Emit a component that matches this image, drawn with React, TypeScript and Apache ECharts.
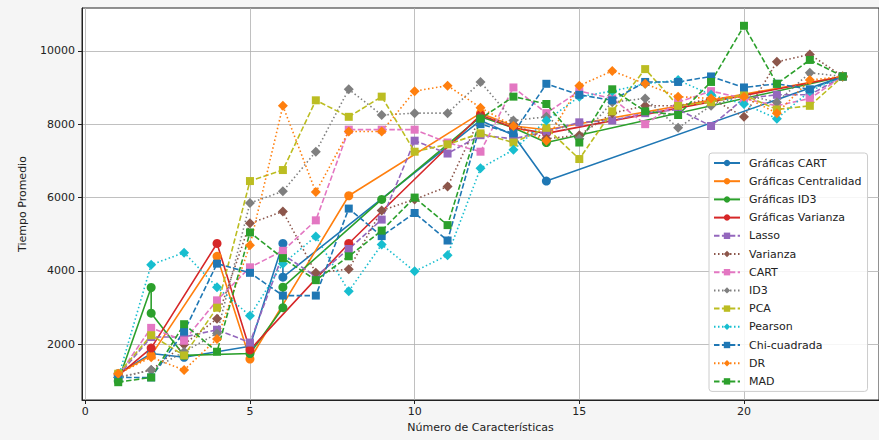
import React, { useEffect, useRef } from 'react';
import * as echarts from 'echarts';

// Number of features (x) for the feature-selection methods
const features = [1, 2, 3, 4, 5, 6, 7, 8, 9, 10, 11, 12, 13, 14, 15, 16, 17, 18, 19, 20, 21, 22, 23];

// "Gráficas" series (sparse x values)
const gCartX = [1, 2, 3, 5, 6, 6, 12, 13, 14, 23];
const gCartY = [1200, 1750, 1650, 1950, 4750, 3830, 8100, 7700, 6450, 9300];
const gCentX = [1, 2, 4, 5, 8, 12, 13, 14, 23];
const gCentY = [1200, 1700, 4400, 1600, 6050, 8300, 7950, 7850, 9300];
const gId3X = [1, 2, 2, 3, 5, 6, 6, 9, 12, 13, 14, 23];
const gId3Y = [1000, 3550, 2850, 1700, 1750, 3000, 3560, 5950, 8200, 7900, 7500, 9300];
const gVarX = [1, 2, 4, 5, 8, 12, 13, 14, 23];
const gVarY = [1150, 1900, 4750, 1850, 4750, 8250, 7900, 7750, 9300];

// Feature-selection methods (one value per feature count)
const lasso = [1150, 2200, 2200, 2400, 2050, 4450, 3850, 4600, 5400, 7550, 7200, 7700, 7600, 7800, 8050, 8100, 8300, 8400, 7950, 8700, 8800, 8800, 9300];
const varianza = [1100, 1300, 2000, 2700, 5300, 5620, 3950, 4050, 5650, 5950, 6300, 8200, 8000, 7600, 7700, 8300, 8500, 8500, 8700, 8200, 9700, 9900, 9300];
const cart = [1150, 2450, 2100, 3200, 4100, 4550, 5380, 7850, 7850, 7850, 7500, 7250, 9000, 8300, 8900, 8700, 8000, 8600, 8900, 8700, 8500, 8700, 9300];
const id3 = [1100, 1300, 1800, 2300, 5850, 6170, 7250, 8950, 8250, 8300, 8300, 9150, 8100, 8200, 7600, 8600, 8700, 7900, 8500, 8800, 8600, 9400, 9300];
const pca = [1200, 2250, 1700, 3000, 6450, 6750, 8650, 8200, 8750, 7250, 7450, 7750, 7500, 7900, 7050, 8350, 9500, 8500, 8600, 8800, 8400, 8500, 9300];
const pearson = [1100, 4170, 4500, 3560, 2780, 4200, 4940, 3450, 4720, 3990, 4430, 6800, 7300, 8100, 8750, 8900, 9100, 9200, 8800, 8550, 8150, 8900, 9300];
const chi = [1100, 1100, 2350, 4200, 3950, 3330, 3330, 5700, 4950, 5580, 4830, 8000, 7750, 9100, 8800, 8650, 9150, 9150, 9300, 9000, 9100, 8950, 9300];
const dr = [1200, 1650, 1300, 2150, 4700, 8500, 6150, 7800, 7800, 8900, 9050, 8450, 7950, 7550, 9050, 9450, 9100, 8750, 8700, 8750, 8300, 9200, 9300];
const mad = [970, 1100, 2550, 1800, 5050, 4350, 3750, 4400, 5100, 6000, 5250, 8150, 8750, 8550, 7500, 8950, 8350, 8250, 9150, 10680, 9100, 9750, 9300];

const xTicks = [0, 5, 10, 15, 20];
const yTicks = [2000, 4000, 6000, 8000, 10000];

const DASH = [5.5, 2.4];
const DOT = [1.5, 2.5];

type Def = { name: string; xs: number[]; ys: number[]; color: string; line: any; symbol: string };

const defs: Def[] = [
  { name: 'Gráficas CART', xs: gCartX, ys: gCartY, color: '#1f77b4', line: 'solid', symbol: 'circle' },
  { name: 'Gráficas Centralidad', xs: gCentX, ys: gCentY, color: '#ff7f0e', line: 'solid', symbol: 'circle' },
  { name: 'Gráficas ID3', xs: gId3X, ys: gId3Y, color: '#2ca02c', line: 'solid', symbol: 'circle' },
  { name: 'Gráficas Varianza', xs: gVarX, ys: gVarY, color: '#d62728', line: 'solid', symbol: 'circle' },
  { name: 'Lasso', xs: features, ys: lasso, color: '#9467bd', line: DASH, symbol: 'rect' },
  { name: 'Varianza', xs: features, ys: varianza, color: '#8c564b', line: DOT, symbol: 'diamond' },
  { name: 'CART', xs: features, ys: cart, color: '#e377c2', line: DASH, symbol: 'rect' },
  { name: 'ID3', xs: features, ys: id3, color: '#7f7f7f', line: DOT, symbol: 'diamond' },
  { name: 'PCA', xs: features, ys: pca, color: '#bcbd22', line: DASH, symbol: 'rect' },
  { name: 'Pearson', xs: features, ys: pearson, color: '#17becf', line: DOT, symbol: 'diamond' },
  { name: 'Chi-cuadrada', xs: features, ys: chi, color: '#1f77b4', line: DASH, symbol: 'rect' },
  { name: 'DR', xs: features, ys: dr, color: '#ff7f0e', line: DOT, symbol: 'diamond' },
  { name: 'MAD', xs: features, ys: mad, color: '#2ca02c', line: DASH, symbol: 'rect' },
];

const FONT = 'DejaVu Sans';

export default function App() {
  const ref = useRef<HTMLDivElement>(null);
  useEffect(() => {
    if (!ref.current) return;
    const chart = echarts.init(ref.current, undefined, { renderer: 'svg' });
    const sizeOf = (s: string) => (s === 'circle' ? 9 : s === 'rect' ? 8 : 10);
    chart.setOption({
      animation: false,
      backgroundColor: '#f5f5f5',
      textStyle: { fontFamily: FONT },
      grid: {
        left: 82, right: 0, top: 8, bottom: 40,
        show: true, backgroundColor: '#ffffff', borderColor: '#222', borderWidth: 1,
      },
      xAxis: {
        type: 'value', min: -0.1, max: 24.1,
        name: 'Número de Características', nameLocation: 'middle', nameGap: 22,
        nameTextStyle: { fontSize: 11, color: '#222', fontFamily: FONT },
        axisLine: { show: true, onZero: false, lineStyle: { color: '#222', width: 1 } },
        axisTick: { show: true, length: 4, lineStyle: { color: '#222' }, customValues: xTicks },
        axisLabel: { fontSize: 11, color: '#222', margin: 6, customValues: xTicks, fontFamily: FONT,
          formatter: (v: number) => String(v) },
        splitLine: { show: true, lineStyle: { color: '#b0b0b0', width: 0.8 } },
      },
      yAxis: {
        type: 'value', min: 485, max: 11165,
        name: 'Tiempo Promedio', nameLocation: 'middle', nameGap: 54, nameRotate: 90,
        nameTextStyle: { fontSize: 11, color: '#222', fontFamily: FONT },
        axisLine: { show: true, onZero: false, lineStyle: { color: '#222', width: 1 } },
        axisTick: { show: true, length: 4, lineStyle: { color: '#222' }, customValues: yTicks },
        axisLabel: { fontSize: 11, color: '#222', margin: 7, customValues: yTicks, fontFamily: FONT,
          formatter: (v: number) => String(v) },
        splitLine: { show: true, lineStyle: { color: '#b0b0b0', width: 0.8 } },
      },
      legend: {
        orient: 'vertical', left: 709, top: 153,
        padding: [3, 6, 3, 4],
        itemWidth: 26, itemHeight: 8, itemGap: 4.2,
        backgroundColor: 'rgba(255,255,255,0.85)', borderColor: '#cccccc', borderWidth: 1, borderRadius: 3,
        textStyle: { fontSize: 11, lineHeight: 14, color: '#222', fontFamily: FONT, padding: [0, 0, 0, 4] },
        data: defs.map(d => d.name),
      },
      series: defs.map(d => ({
        name: d.name,
        type: 'line',
        data: d.xs.map((x, i) => [x, d.ys[i]]),
        symbol: d.symbol,
        symbolSize: sizeOf(d.symbol),
        showAllSymbol: true,
        color: d.color,
        itemStyle: { color: d.color },
        lineStyle: { color: d.color, width: 1.6, type: d.line },
        emphasis: { disabled: true },
      })),
    });
    return () => chart.dispose();
  }, []);
  return (
    <div ref={ref} style={{ position: 'absolute', left: 0, top: 0, width: 879, height: 440 }} />
  );
}
